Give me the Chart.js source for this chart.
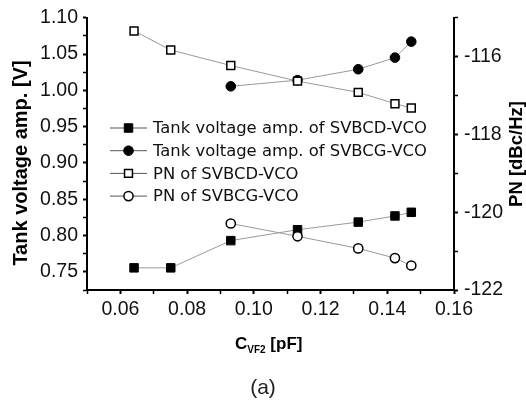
<!DOCTYPE html>
<html><head><meta charset="utf-8">
<script src="https://cdn.jsdelivr.net/npm/chart.js@4.4.0/dist/chart.umd.min.js"></script>
<style>html,body{margin:0;padding:0;background:#fff}canvas{display:block}</style>
</head><body>
<canvas id="c" width="526" height="403"></canvas>
<script>
// ---- data ----
const cvf2D = [0.0641, 0.0751, 0.0931, 0.1131, 0.1313, 0.1423, 0.1472];
const cvf2G = [0.0931, 0.1131, 0.1313, 0.1423, 0.1472];
const tankSVBCD = [0.7555, 0.7555, 0.793, 0.808, 0.8185, 0.827, 0.832];
const tankSVBCG = [1.0055, 1.014, 1.029, 1.045, 1.067];
const pnSVBCD = [-115.34, -115.83, -116.23, -116.63, -116.92, -117.21, -117.32];
const pnSVBCG = [-120.29, -120.62, -120.93, -121.18, -121.37];
const seriesNames = ['Tank voltage amp. of SVBCD-VCO', 'Tank voltage amp. of SVBCG-VCO', 'PN of SVBCD-VCO', 'PN of SVBCG-VCO'];
const xTickLabels = ['0.06', '0.08', '0.10', '0.12', '0.14', '0.16'];
const yLeftTickLabels = ['0.75', '0.80', '0.85', '0.90', '0.95', '1.00', '1.05', '1.10'];
const yRightTickLabels = ['-122', '-120', '-118', '-116'];
const xTitleMain = 'C', xTitleSub = 'VF2', xTitleUnit = ' [pF]';
const yLeftTitle = 'Tank voltage amp. [V]';
const yRightTitle = 'PN [dBc/Hz]';
const caption = '(a)';

const pts = (xs, ys) => xs.map((x, i) => ({ x: x, y: ys[i] }));

function tickBuilder(labels, minorStep, min, max) {
  return function (scale) {
    const vals = [];
    const n = Math.round((max - min) / minorStep);
    for (let i = 0; i <= n; i++) vals.push(+(min + i * minorStep).toFixed(6));
    scale.ticks = vals.map(v => ({ value: v }));
  };
}
function labelFor(labels) {
  return function (value) {
    for (const l of labels) if (Math.abs(parseFloat(l) - value) < 1e-6) return l;
    return '';
  };
}

const tickFont = { family: 'Liberation Sans', size: 19.5 };
const gridCfg = { drawOnChartArea: false, drawTicks: true, tickLength: 4, tickColor: '#000',
  tickWidth: c => (c.tick && c.tick.label ? 2 : 1.5) };
const borderCfg = { display: true, color: '#000', width: 2 };

const lineColor = '#9a9a9a';
const datasets = [
  { label: seriesNames[0], data: pts(cvf2D, tankSVBCD), yAxisID: 'y', pointStyle: 'rect', pointRadius: 6,
    pointBackgroundColor: '#000', pointBorderColor: '#000', pointBorderWidth: 1, order: 4 },
  { label: seriesNames[1], data: pts(cvf2G, tankSVBCG), yAxisID: 'y', pointStyle: 'circle', pointRadius: 4.8,
    pointBackgroundColor: '#000', pointBorderColor: '#000', pointBorderWidth: 1, order: 3 },
  { label: seriesNames[2], data: pts(cvf2D, pnSVBCD), yAxisID: 'y1', pointStyle: 'rect', pointRadius: 5.6,
    pointBackgroundColor: '#fff', pointBorderColor: '#000', pointBorderWidth: 1.5, order: 2 },
  { label: seriesNames[3], data: pts(cvf2G, pnSVBCG), yAxisID: 'y1', pointStyle: 'circle', pointRadius: 4.6,
    pointBackgroundColor: '#fff', pointBorderColor: '#000', pointBorderWidth: 1.5, order: 1 }
].map(d => Object.assign({ borderColor: lineColor, borderWidth: 1, showLine: true, fill: false, tension: 0 }, d));

const decor = {
  id: 'decor',
  afterDraw(chart) {
    const ctx = chart.ctx;
    ctx.save();
    // legend
    chart.data.datasets.forEach((ds, i) => {
      const y = 128 + i * 22.7;
      ctx.strokeStyle = '#555';
      ctx.lineWidth = 1;
      ctx.beginPath(); ctx.moveTo(110, y); ctx.lineTo(147, y); ctx.stroke();
      const meta = chart.getDatasetMeta(i);
      const el = meta.data[0];
      const o = el.options;
      ctx.fillStyle = o.backgroundColor; ctx.strokeStyle = o.borderColor; ctx.lineWidth = o.borderWidth;
      Chart.helpers.drawPoint(ctx, { pointStyle: o.pointStyle, radius: o.radius, rotation: 0, borderWidth: o.borderWidth }, 128.5, y);
      ctx.fillStyle = '#111';
      ctx.font = '16.4px "DejaVu Sans"';
      ctx.textBaseline = 'middle'; ctx.textAlign = 'left';
      ctx.fillText(ds.label, 153, y + 1);
    });
    // left title
    ctx.fillStyle = '#000';
    ctx.font = 'bold 20px "Liberation Sans"';
    ctx.textAlign = 'center'; ctx.textBaseline = 'middle';
    ctx.save(); ctx.translate(21, 163); ctx.rotate(-Math.PI / 2); ctx.fillText(yLeftTitle, 0, 0); ctx.restore();
    // right title
    ctx.font = 'bold 18.5px "Liberation Sans"';
    ctx.save(); ctx.translate(517, 154); ctx.rotate(-Math.PI / 2); ctx.fillText(yRightTitle, 0, 0); ctx.restore();
    // bottom title
    ctx.textAlign = 'left'; ctx.textBaseline = 'alphabetic';
    let x = 235;
    ctx.font = 'bold 17px "Liberation Sans"';
    ctx.fillText(xTitleMain, x, 349); x += ctx.measureText(xTitleMain).width;
    ctx.font = 'bold 10px "Liberation Sans"';
    ctx.fillText(xTitleSub, x, 353); x += ctx.measureText(xTitleSub).width;
    ctx.font = 'bold 17px "Liberation Sans"';
    ctx.fillText(xTitleUnit, x, 349);
    // caption
    ctx.fillStyle = '#222';
    ctx.font = '21px "Liberation Sans Narrow", "Liberation Sans"';
    ctx.textAlign = 'center'; ctx.textBaseline = 'middle';
    ctx.fillText(caption, 263, 388);
    ctx.restore();
  }
};

new Chart(document.getElementById('c'), {
  type: 'line',
  data: { datasets: datasets },
  options: {
    responsive: false,
    animation: false,
    devicePixelRatio: 1,
    layout: { padding: { top: 16, left: 0, right: 0, bottom: 0 } },
    plugins: { legend: { display: false }, tooltip: { enabled: false } },
    scales: {
      x: {
        type: 'linear', position: 'bottom', min: 0.05, max: 0.16,
        border: borderCfg, grid: gridCfg,
        ticks: { font: tickFont, color: '#111', padding: 4, autoSkip: false, maxRotation: 0, callback: labelFor(xTickLabels) },
        afterBuildTicks: tickBuilder(xTickLabels, 0.01, 0.05, 0.16),
        afterFit: s => { s.height = 113; }
      },
      y: {
        type: 'linear', position: 'left', min: 0.725, max: 1.10,
        border: borderCfg, grid: gridCfg,
        ticks: { font: tickFont, color: '#111', padding: 5, autoSkip: false, callback: labelFor(yLeftTickLabels) },
        afterBuildTicks: tickBuilder(yLeftTickLabels, 0.025, 0.725, 1.10),
        afterFit: s => { s.width = 87; }
      },
      y1: {
        type: 'linear', position: 'right', min: -122, max: -115,
        border: borderCfg, grid: gridCfg,
        ticks: { font: tickFont, color: '#111', padding: 6, autoSkip: false, callback: labelFor(yRightTickLabels) },
        afterBuildTicks: tickBuilder(yRightTickLabels, 1, -122, -115),
        afterFit: s => { s.width = 72; }
      }
    }
  },
  plugins: [decor]
});
</script>
</body></html>
